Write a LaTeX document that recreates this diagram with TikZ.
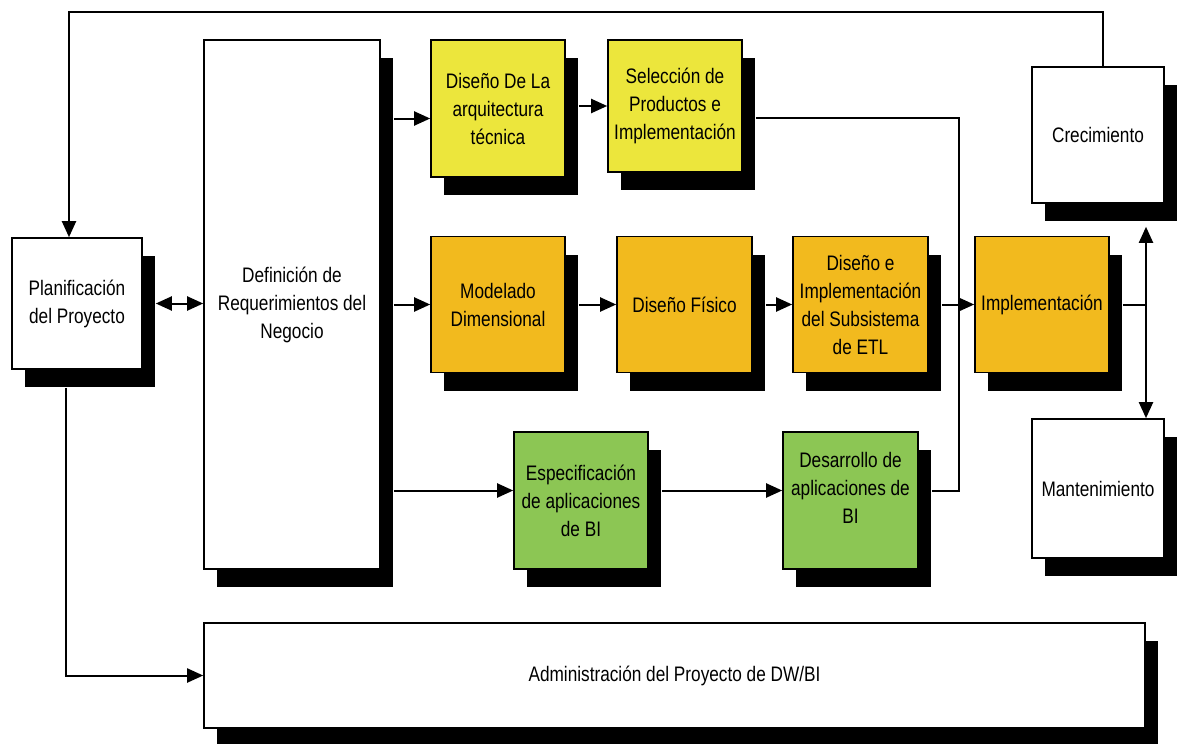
\documentclass[tikz,border=0pt]{standalone}
\usepackage{fontspec}
\setmainfont{Liberation Sans}[FakeStretch=0.82]
\usetikzlibrary{arrows.meta}
\usetikzlibrary{shadows,calc}
\definecolor{amarillo}{RGB}{236,230,60}
\definecolor{naranja}{RGB}{242,186,30}
\definecolor{verde}{RGB}{140,198,84}
\tikzset{
  caja/.style={rectangle,draw=black,line width=0.8pt,fill=white,align=center,inner sep=2pt,
    font=\fontsize{10.5}{14}\selectfont,
    drop shadow={shadow xshift=6.5pt,shadow yshift=-9pt,fill=black,opacity=1}},
  etiq/.style={align=center,inner sep=0pt,font=\fontsize{10.5}{14}\selectfont},
}
\newcommand{\sx}{6.5pt}
\newcommand{\sy}{9pt}

\begin{document}
\begin{tikzpicture}[x=0.5pt,y=-0.5pt]
		\useasboundingbox (0,0) rectangle (1179,744);

		\begin{scope}[every node/.style={caja}]
			\node[minimum width=65pt,minimum height=65.5pt] (plan) at (77,303.5) {Planificación\\del Proyecto};
			\node[minimum width=88pt,minimum height=264.5pt] (def) at (292,304.5) {Definición de\\Requerimientos del\\Negocio};
			\node[fill=amarillo,minimum width=67pt,minimum height=68.5pt] (arq) at (498,108.5) {Diseño De La\\arquitectura\\técnica};
			\node[fill=amarillo,minimum width=67pt,minimum height=66pt] (sel) at (675,106) {Selección de\\Productos e\\Implementación};
			\node[fill=naranja,minimum width=67pt,minimum height=68pt] (mod) at (498,304.5) {Modelado\\Dimensional};
			\node[fill=naranja,minimum width=67.5pt,minimum height=68pt] (fis) at (684.5,304.5) {Diseño Físico};
			\node[fill=naranja,minimum width=67.5pt,minimum height=68pt] (etl) at (860.5,304.5) {Diseño e\\Implementación\\del Subsistema\\de ETL};
			\node[fill=naranja,minimum width=67pt,minimum height=68pt] (impl) at (1042,304.5) {Implementación};
			\node[fill=verde,minimum width=67pt,minimum height=68.5pt] (esp) at (581,500.5) {Especificación\\de aplicaciones\\de BI};
			\node[minimum width=66pt,minimum height=68pt] (crec) at (1098,135) {Crecimiento};
			\node[minimum width=66pt,minimum height=69.5pt] (mant) at (1098,488.5) {Mantenimiento};
			\node[minimum width=470.5pt,minimum height=52.5pt] (admin) at (674.5,675.5) {Administración del Proyecto de DW/BI};
		\end{scope}
		% texto algo mas arriba que el centro
		\node[caja,fill=verde,minimum width=67.5pt,minimum height=68.5pt,
			label={[etiq,yshift=6.5pt]center:Desarrollo de\\aplicaciones de\\BI}] (des) at (850.5,500.5) {};

		\coordinate (union) at (959,304.5);
		\coordinate (ramal) at (1146,304.5);
		\coordinate (techo) at (600,12);

		\begin{scope}[line width=1pt,>={Triangle[length=8pt,width=7pt]}]
			\draw[<->] ([xshift=\sx]plan.east) -- (def.west |- plan.east);
			\draw[->] ([xshift=\sx,yshift=-5pt]def.east |- arq.west) -- ([yshift=-5pt]arq.west);
			\draw[->] ([xshift=\sx]arq.east |- sel.west) -- (sel.west);
			\draw[->] ([xshift=\sx]def.east |- mod.west) -- (mod.west);
			\draw[->] ([xshift=\sx]mod.east) -- (fis.west);
			\draw[->] ([xshift=\sx]fis.east) -- (etl.west);
			\draw[->] ([xshift=\sx]etl.east) -- (impl.west);
			\draw[->] ([xshift=\sx,yshift=5pt]def.east |- esp.west) -- ([yshift=5pt]esp.west);
			\draw[->] ([xshift=\sx,yshift=5pt]esp.east) -- ([yshift=5pt]des.west);
			\draw ([xshift=\sx,yshift=-6pt]sel.east) -| (union);
			\draw ([xshift=\sx,yshift=5pt]des.east) -| (union);
			\draw ([xshift=\sx]impl.east) -- (ramal);
			\draw[<->] ([yshift=-11.5pt]crec.south -| ramal) -- (mant.north -| ramal);
			\draw[->] ([xshift=2.5pt]crec.north) |- (techo) -| ([xshift=-4pt]plan.north);
			\draw[->] ([xshift=-5.5pt,yshift=-\sy]plan.south) |- (admin.west);
		\end{scope}
	\end{tikzpicture}
\end{document}
